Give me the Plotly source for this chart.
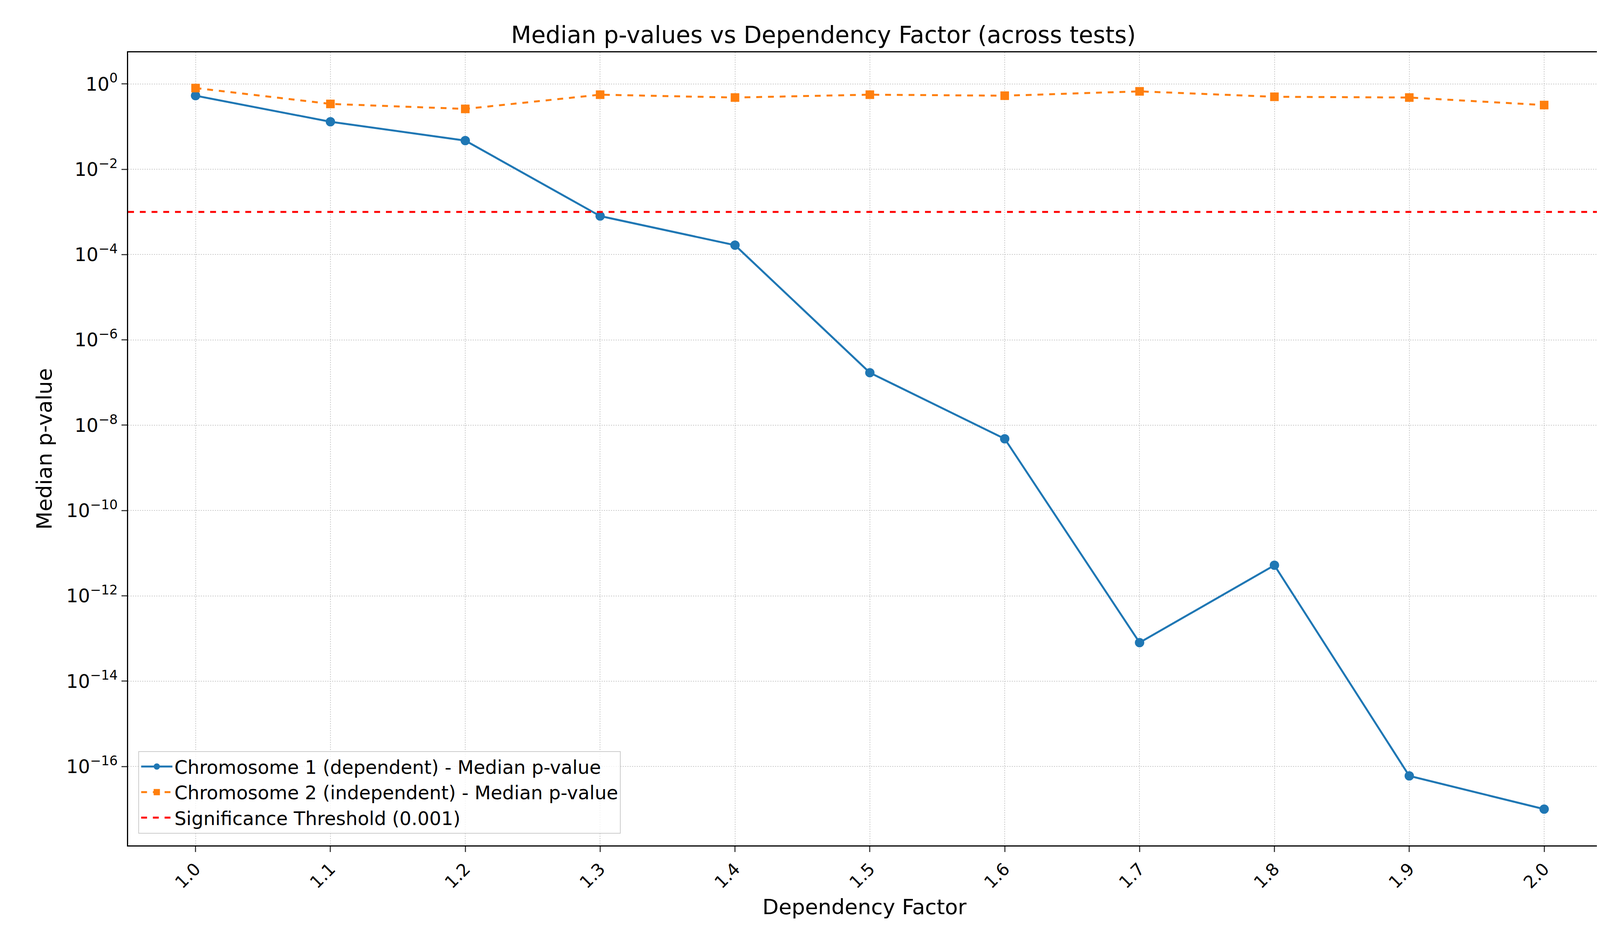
import plotly.graph_objects as go

dep_factor = [1.0, 1.1, 1.2, 1.3, 1.4, 1.5, 1.6, 1.7, 1.8, 1.9, 2.0]
chr1_median = [0.53, 0.13, 0.047, 8e-4, 1.66e-4, 1.7e-7, 4.8e-9, 8e-14, 5.2e-12, 6e-17, 1e-17]
chr2_median = [0.8, 0.34, 0.26, 0.56, 0.48, 0.56, 0.53, 0.67, 0.5, 0.48, 0.32]
threshold = 0.001
y_exps = list(range(-16, 1, 2))

fig = go.Figure()
fig.add_trace(go.Scatter(x=dep_factor, y=chr1_median, mode="lines+markers",
                         name="Chromosome 1 (dependent) - Median p-value",
                         line=dict(color="#1f77b4", width=5),
                         marker=dict(symbol="circle", size=24, color="#1f77b4")))
fig.add_trace(go.Scatter(x=dep_factor, y=chr2_median, mode="lines+markers",
                         name="Chromosome 2 (independent) - Median p-value",
                         line=dict(color="#ff7f0e", width=5, dash="dash"),
                         marker=dict(symbol="square", size=22, color="#ff7f0e")))
fig.add_trace(go.Scatter(x=[0.95, 2.042], y=[threshold, threshold], mode="lines",
                         name="Significance Threshold (0.001)",
                         line=dict(color="red", width=5, dash="dash")))

fig.update_layout(
    width=4200, height=2400,
    paper_bgcolor="white", plot_bgcolor="white",
    font=dict(family="DejaVu Sans", size=48, color="black"),
    title=dict(text="Median p-values vs Dependency Factor (across tests)",
               x=0.5, xanchor="center", y=0.975, font=dict(size=60)),
    margin=dict(l=320, r=110, t=126, b=245),
    legend=dict(x=0.007, y=0.015, xanchor="left", yanchor="bottom",
                bordercolor="#cccccc", borderwidth=2, bgcolor="rgba(255,255,255,0.8)",
                font=dict(size=48), itemwidth=80),
    showlegend=True,
)
fig.update_xaxes(title=dict(text="Dependency Factor", font=dict(size=54), standoff=20),
                 range=[0.95, 2.042], tickvals=dep_factor,
                 ticktext=[f"{v:.1f}" for v in dep_factor], tickangle=-45,
                 showgrid=True, gridcolor="#cccccc", griddash="dot", gridwidth=2,
                 showline=True, linecolor="black", linewidth=3, mirror=True,
                 ticks="outside", ticklen=14, tickwidth=3, tickfont=dict(size=44),
                 zeroline=False)
fig.update_yaxes(title=dict(text="Median p-value", font=dict(size=54), standoff=20),
                 type="log", range=[-17.85, 0.74],
                 tickvals=[10 ** e for e in y_exps],
                 ticktext=[f"10<sup>{str(e).replace('-', '−')}</sup>" for e in y_exps],
                 showgrid=True, gridcolor="#cccccc", griddash="dot", gridwidth=2,
                 showline=True, linecolor="black", linewidth=3, mirror=True,
                 ticks="outside", ticklen=14, tickwidth=3, tickfont=dict(size=48),
                 zeroline=False)

fig.write_html("out.html")
